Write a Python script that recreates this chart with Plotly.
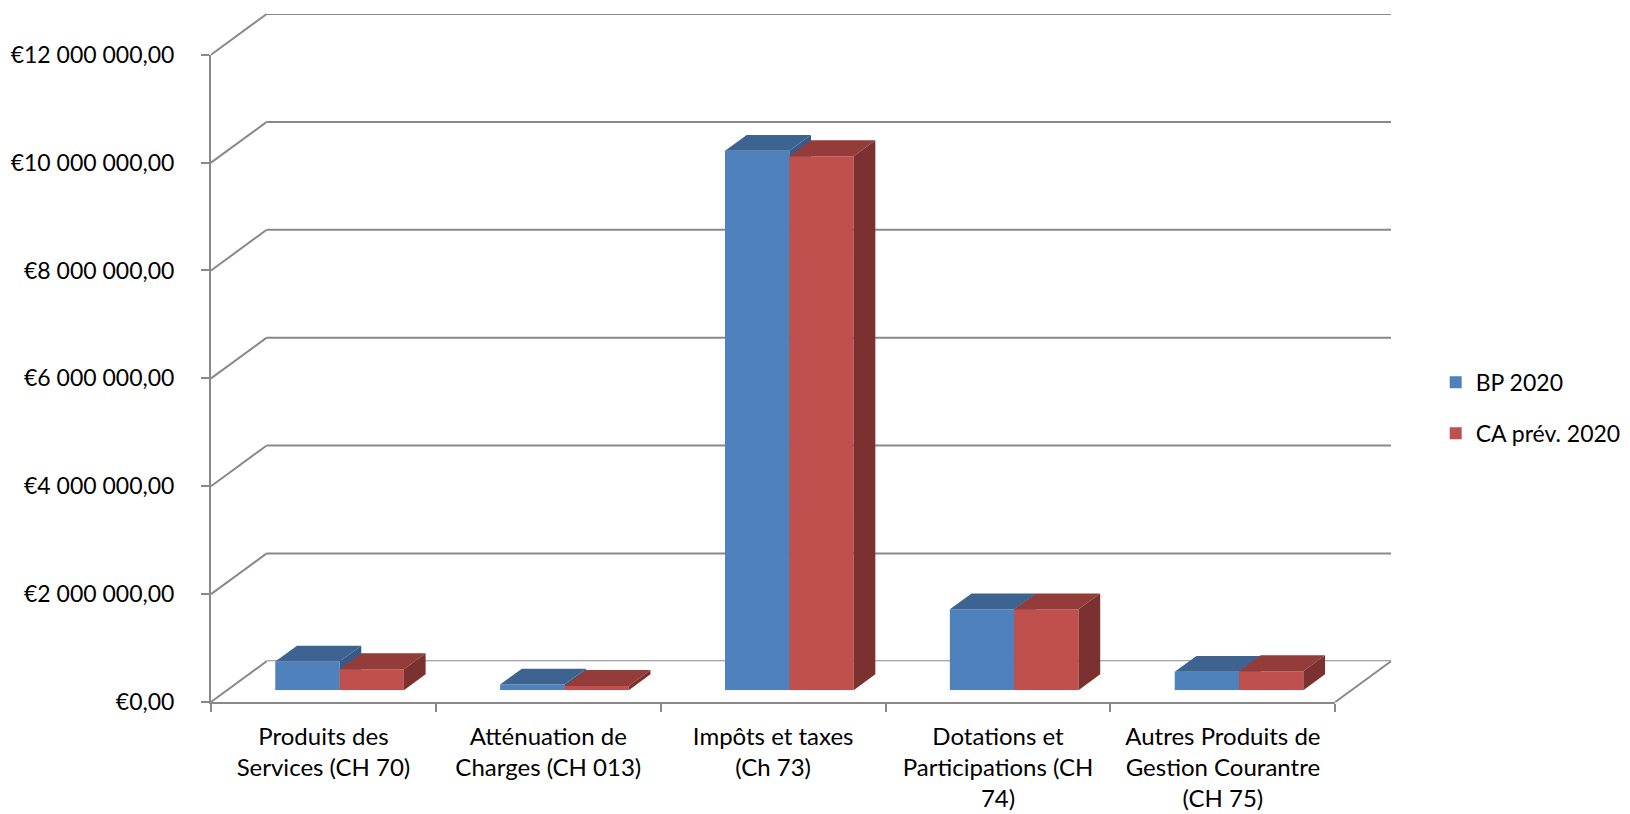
import plotly.graph_objects as go

# ---- data ----------------------------------------------------------------
categories = [
    "Produits des<br>Services (CH 70)",
    "Atténuation de<br>Charges (CH 013)",
    "Impôts et taxes<br>(Ch 73)",
    "Dotations et<br>Participations (CH<br>74)",
    "Autres Produits de<br>Gestion Courantre<br>(CH 75)",
]
series_names = ["BP 2020", "CA prév. 2020"]
bp_2020 = [530000, 104000, 10000000, 1500000, 340000]
ca_prev_2020 = [390000, 80000, 9900000, 1500000, 352000]
y_tick_values = [0, 2000000, 4000000, 6000000, 8000000, 10000000, 12000000]
y_tick_labels = ["€0,00", "€2 000 000,00", "€4 000 000,00", "€6 000 000,00",
                 "€8 000 000,00", "€10 000 000,00", "€12 000 000,00"]
y_max = 12000000

# ---- styling / geometry (pixels) -----------------------------------------
FIG_W, FIG_H = 1630, 814
FRONT_L, FRONT_R = 211.0, 1335.6      # front plane, left / right
FRONT_T, FRONT_B = 55.0, 702.0        # front plane, top (y_max) / bottom (0)
DEPTH_DX, DEPTH_DY = 55.7, 40.7       # oblique offset of the back wall
BAR_DEPTH0 = 0.29                     # depth where the bars start
BAR_DEPTH = 0.39                      # thickness of a bar (fraction of depth)
BAR_W = 0.286                         # bar width in category units

PAPER_L, PAPER_R = FRONT_L, FRONT_R + DEPTH_DX
PAPER_T, PAPER_B = FRONT_T - DEPTH_DY, FRONT_B
PW, PH = PAPER_R - PAPER_L, PAPER_B - PAPER_T

GRID = "#898989"
BLUE, BLUE_TOP, BLUE_SIDE = "#4F81BD", "#3D6391", "#365B88"
RED, RED_TOP, RED_SIDE = "#C0504D", "#933C3A", "#7B3130"
FONT = "Lato, 'Open Sans', sans-serif"


def domain(depth):
    """Paper domain of a plane parallel to the front, pushed back by `depth`."""
    x0 = (FRONT_L + depth * DEPTH_DX - PAPER_L) / PW
    x1 = (FRONT_R + depth * DEPTH_DX - PAPER_L) / PW
    y0 = depth * DEPTH_DY / PH
    y1 = (PAPER_B - FRONT_T + depth * DEPTH_DY) / PH
    return [max(0, x0), min(1, x1)], [max(0, y0), min(1, y1)]


front_x, front_y = domain(0)
back_x, back_y = domain(1)
bar_x, bar_y = domain(BAR_DEPTH0)

cat_px = (FRONT_R - FRONT_L) / len(categories)
val_px = (FRONT_B - FRONT_T) / y_max
ddx = BAR_DEPTH * DEPTH_DX / cat_px   # depth offset in category units
ddy = BAR_DEPTH * DEPTH_DY / val_px   # depth offset in value units

fig = go.Figure()

# back wall axes
fig.add_trace(go.Scatter(x=[0], y=[0], xaxis="x", yaxis="y", mode="markers",
                         marker=dict(opacity=0), showlegend=False,
                         hoverinfo="skip"))
# front axes (labels, axis lines)
fig.add_trace(go.Scatter(x=categories, y=[0] * len(categories), xaxis="x2",
                         yaxis="y2", mode="markers", marker=dict(opacity=0),
                         showlegend=False, hoverinfo="skip"))


def faces(values, left_offset, xa, ya, top_color, side_color):
    tops_x, tops_y, side_x, side_y = [], [], [], []
    for i, v in enumerate(values):
        x0 = i + left_offset
        x1 = x0 + BAR_W
        tops_x += [x0, x1, x1 + ddx, x0 + ddx, x0, None]
        tops_y += [v, v, v + ddy, v + ddy, v, None]
        side_x += [x1, x1 + ddx, x1 + ddx, x1, x1, None]
        side_y += [0, ddy, v + ddy, v, 0, None]
    common = dict(xaxis=xa, yaxis=ya, mode="lines", line=dict(width=0),
                  fill="toself", showlegend=False, hoverinfo="skip")
    return [go.Scatter(x=side_x, y=side_y, fillcolor=side_color, **common),
            go.Scatter(x=tops_x, y=tops_y, fillcolor=top_color, **common)]


idx = list(range(len(categories)))
for name, vals, color, top_c, side_c, off, xa, ya in [
    (series_names[0], bp_2020, BLUE, BLUE_TOP, BLUE_SIDE, -BAR_W, "x3", "y3"),
    (series_names[1], ca_prev_2020, RED, RED_TOP, RED_SIDE, 0.0, "x4", "y4"),
]:
    fig.add_trace(go.Bar(x=idx, y=vals, name=name, width=BAR_W, offset=off,
                         marker=dict(color=color, line=dict(width=0)),
                         xaxis=xa, yaxis=ya, legendgroup=name))
    for tr in faces(vals, off, xa, ya, top_c, side_c):
        fig.add_trace(tr)

shapes = []
# horizontal gridlines on the back wall
for v in y_tick_values:
    shapes.append(dict(type="line", xref="paper", yref="y",
                       x0=back_x[0], x1=back_x[1], y0=v, y1=v,
                       line=dict(color=GRID, width=2), layer="below"))
# oblique lines joining the front axis to the back wall, plus floor edge
for v in y_tick_values:
    yf = front_y[0] + v * val_px / PH
    shapes.append(dict(type="line", xref="paper", yref="paper",
                       x0=front_x[0], y0=yf, x1=back_x[0],
                       y1=yf + DEPTH_DY / PH,
                       line=dict(color=GRID, width=2), layer="below"))
shapes.append(dict(type="line", xref="paper", yref="paper",
                   x0=front_x[1], y0=front_y[0], x1=back_x[1], y1=back_y[0],
                   line=dict(color=GRID, width=2), layer="below"))

hidden = dict(visible=False, range=[-0.5, len(categories) - 0.5],
              automargin=False)
hidden_y = dict(visible=False, range=[0, y_max], automargin=False)

fig.update_layout(
    width=FIG_W, height=FIG_H,
    margin=dict(l=PAPER_L, r=FIG_W - PAPER_R, t=PAPER_T, b=FIG_H - PAPER_B,
                pad=0, autoexpand=False),
    paper_bgcolor="white", plot_bgcolor="rgba(0,0,0,0)",
    font=dict(family=FONT, size=22, color="#000000"),
    barmode="overlay",
    shapes=shapes,
    xaxis=dict(domain=back_x, anchor="y", **hidden),
    yaxis=dict(domain=back_y, anchor="x", range=[0, y_max],
               showgrid=False, showticklabels=False, ticks="",
               showline=False, zeroline=False, automargin=False),
    xaxis2=dict(domain=front_x, anchor="y2", type="category",
                categoryorder="array", categoryarray=categories,
                range=[-0.5, len(categories) - 0.5], tickson="boundaries",
                ticks="outside", ticklen=8, tickwidth=2, tickcolor=GRID,
                showline=True, linecolor=GRID, linewidth=2, showgrid=False,
                zeroline=False, tickfont=dict(size=24),
                ticklabelstandoff=12, automargin=False),
    yaxis2=dict(domain=front_y, anchor="x2", range=[0, y_max],
                tickvals=y_tick_values, ticktext=y_tick_labels,
                ticks="outside", ticklen=8, tickwidth=2, tickcolor=GRID,
                showline=True, linecolor=GRID, linewidth=2, showgrid=False,
                zeroline=False, tickfont=dict(size=23),
                ticklabelstandoff=22, automargin=False),
    xaxis3=dict(domain=bar_x, anchor="y3", **hidden),
    yaxis3=dict(domain=bar_y, anchor="x3", **hidden_y),
    xaxis4=dict(overlaying="x3", anchor="y4", **hidden),
    yaxis4=dict(overlaying="y3", anchor="x4", **hidden_y),
    showlegend=True,
    legend=dict(x=(1436 - PAPER_L) / PW, xanchor="left",
                y=(PAPER_B - 408) / PH, yanchor="middle",
                traceorder="grouped", tracegroupgap=18,
                font=dict(size=23), bgcolor="rgba(0,0,0,0)"),
)

fig.write_html("out.html")
